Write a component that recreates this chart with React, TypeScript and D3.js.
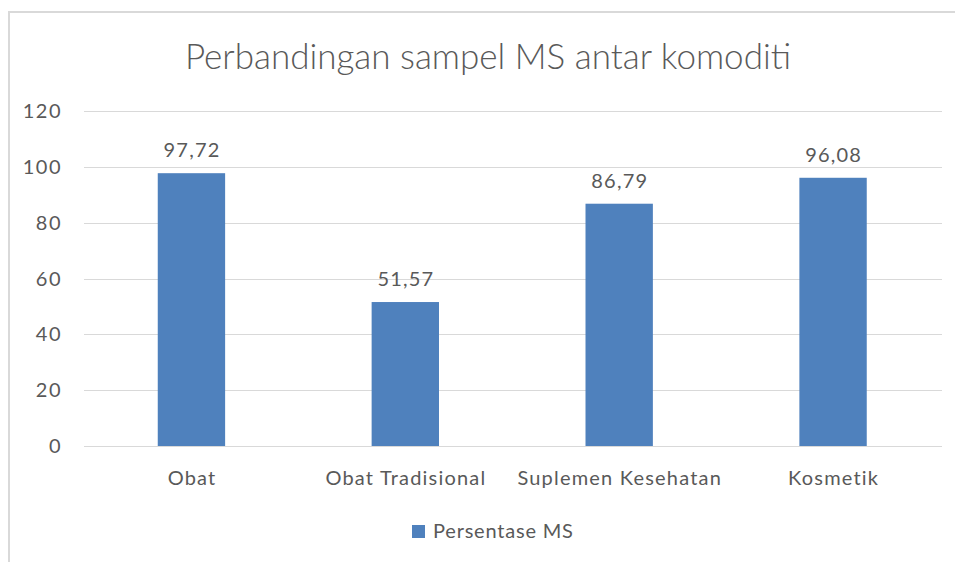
import React, { useEffect, useRef } from "react";
import * as d3 from "d3";

const categories = ["Obat", "Obat Tradisional", "Suplemen Kesehatan", "Kosmetik"];
const values = [97.72, 51.57, 86.79, 96.08];
const valueLabels = ["97,72", "51,57", "86,79", "96,08"];
const yTicks = [0, 20, 40, 60, 80, 100, 120];
const seriesName = "Persentase MS";
const title = "Perbandingan sampel MS antar komoditi";

const W = 955;
const H = 562;
const font = "Lato, 'Open Sans', sans-serif";
const textColor = "#595959";
const barColor = "#4F81BD";

function App() {
  const ref = useRef<SVGSVGElement>(null);

  useEffect(() => {
    const svg = d3.select(ref.current);
    svg.selectAll("*").remove();

    // chart frame (left and top edge visible)
    svg.append("line").attr("x1", 9).attr("x2", 9).attr("y1", 11).attr("y2", H)
      .attr("stroke", "#D9D9D9").attr("stroke-width", 2);
    svg.append("line").attr("x1", 8).attr("x2", W).attr("y1", 12).attr("y2", 12)
      .attr("stroke", "#D9D9D9").attr("stroke-width", 2);

    const x = d3.scaleBand().domain(categories).range([84.5, 940]).paddingInner(0.685).paddingOuter(0.3425);
    const y = d3.scaleLinear().domain([0, 120]).range([446, 111]);

    // gridlines
    svg.append("g").selectAll("line").data(yTicks).enter().append("line")
      .attr("x1", 84).attr("x2", 942)
      .attr("y1", (d) => Math.round(y(d)) + 0.5).attr("y2", (d) => Math.round(y(d)) + 0.5)
      .attr("stroke", "#D9D9D9").attr("stroke-width", 1);

    // y tick labels
    svg.append("g").selectAll("text").data(yTicks).enter().append("text")
      .attr("x", 62).attr("y", (d) => y(d) + 7)
      .attr("text-anchor", "end").attr("font-family", font).attr("font-size", 20)
      .attr("letter-spacing", 1.5)
      .attr("fill", textColor).text((d) => d);

    // bars
    svg.append("g").selectAll("rect").data(values).enter().append("rect")
      .attr("x", (d, i) => x(categories[i])!)
      .attr("width", x.bandwidth())
      .attr("y", (d) => y(d))
      .attr("height", (d) => y(0) - y(d))
      .attr("fill", barColor);

    // data labels
    svg.append("g").selectAll("text").data(values).enter().append("text")
      .attr("x", (d, i) => x(categories[i])! + x.bandwidth() / 2 + 0.6)
      .attr("y", (d) => y(d) - 16)
      .attr("text-anchor", "middle").attr("font-family", font).attr("font-size", 20)
      .attr("letter-spacing", 1.2)
      .attr("fill", textColor).text((d, i) => valueLabels[i]);

    // category labels
    svg.append("g").selectAll("text").data(categories).enter().append("text")
      .attr("x", (d) => x(d)! + x.bandwidth() / 2 + 0.6)
      .attr("y", 485)
      .attr("text-anchor", "middle").attr("font-family", font).attr("font-size", 20)
      .attr("letter-spacing", 1.2)
      .attr("fill", textColor).text((d) => d);

    // title
    svg.append("text").attr("x", 488).attr("y", 69)
      .attr("text-anchor", "middle").attr("font-family", font).attr("font-size", 35)
      .attr("font-weight", 300)
      .attr("fill", textColor).text(title);

    // legend
    svg.append("rect").attr("x", 412).attr("y", 525).attr("width", 13).attr("height", 13).attr("fill", barColor);
    svg.append("text").attr("x", 433).attr("y", 538)
      .attr("font-family", font).attr("font-size", 20).attr("letter-spacing", 0.8)
      .attr("fill", textColor).text(seriesName);
  }, []);

  return <svg ref={ref} width={W} height={H} style={{ position: "absolute", left: 0, top: 0, background: "#fff" }} />;
}

export default App;
